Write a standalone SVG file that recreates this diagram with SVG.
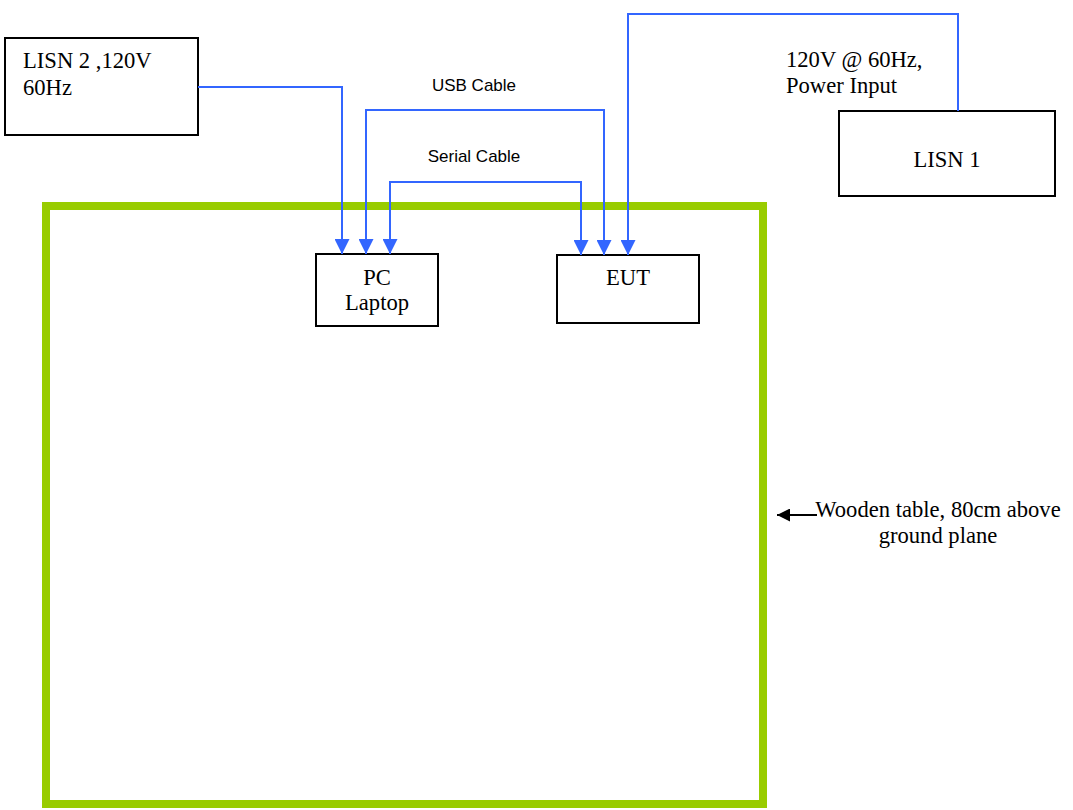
<svg xmlns="http://www.w3.org/2000/svg" width="1073" height="810" viewBox="0 0 1073 810">
<style>
.box{fill:#fff;stroke:#000;stroke-width:2}
.t{font-family:"Liberation Serif","Times New Roman",serif;font-size:22.6px;fill:#000}
.s{font-family:"Liberation Sans",Arial,sans-serif;font-size:17px;fill:#000}
.w{fill:none;stroke:#3366ff;stroke-width:2}
</style>
<defs>
<marker id="ah" viewBox="0 0 10 10" refX="10" refY="5" markerWidth="15" markerHeight="15" markerUnits="userSpaceOnUse" orient="auto-start-reverse">
<path d="M0,0 L10,5 L0,10 z" fill="#3366ff"/>
</marker>
<marker id="bh" viewBox="0 0 10 10" refX="10" refY="5" markerWidth="14" markerHeight="13" markerUnits="userSpaceOnUse" orient="auto">
<path d="M0,0 L10,5 L0,10 z" fill="#000"/>
</marker>
</defs>
<rect width="1073" height="810" fill="#fff"/>
<g id="table">
<rect x="46" y="206" width="717" height="598" fill="none" stroke="#99cc00" stroke-width="8"/>
</g>
<g id="lisn2">
<rect class="box" x="5" y="38" width="193" height="97"/>
<text class="t" x="23" y="68">LISN 2 ,120V</text>
<text class="t" x="23" y="95">60Hz</text>
</g>
<g id="pc">
<rect class="box" x="316" y="254" width="122" height="72"/>
<text class="t" x="377" y="285" text-anchor="middle">PC</text>
<text class="t" x="377" y="310" text-anchor="middle">Laptop</text>
</g>
<g id="eut">
<rect class="box" x="557" y="255" width="142" height="68"/>
<text class="t" x="628" y="285" text-anchor="middle">EUT</text>
</g>
<g id="lisn1">
<rect class="box" x="839" y="111" width="216" height="85"/>
<text class="t" x="947" y="167" text-anchor="middle">LISN 1</text>
</g>
<g id="connectors">
<path class="w" d="M198,87 H342 V254" marker-end="url(#ah)"/>
<path class="w" d="M366,254 V110 H604 V255" marker-start="url(#ah)" marker-end="url(#ah)"/>
<path class="w" d="M390,254 V182 H581 V255" marker-start="url(#ah)" marker-end="url(#ah)"/>
<path class="w" d="M958,111 V14 H628 V255" marker-end="url(#ah)"/>
<line x1="817" y1="515" x2="777" y2="515" stroke="#000" stroke-width="2" marker-end="url(#bh)"/>
</g>
<g id="labels">
<text class="s" x="474" y="91" text-anchor="middle">USB Cable</text>
<text class="s" x="474" y="162" text-anchor="middle">Serial Cable</text>
<text class="t" x="786" y="67">120V @ 60Hz,</text>
<text class="t" x="786" y="93">Power Input</text>
<text class="t" x="938" y="517" text-anchor="middle">Wooden table, 80cm above</text>
<text class="t" x="938" y="543" text-anchor="middle">ground plane</text>
</g>
</svg>
